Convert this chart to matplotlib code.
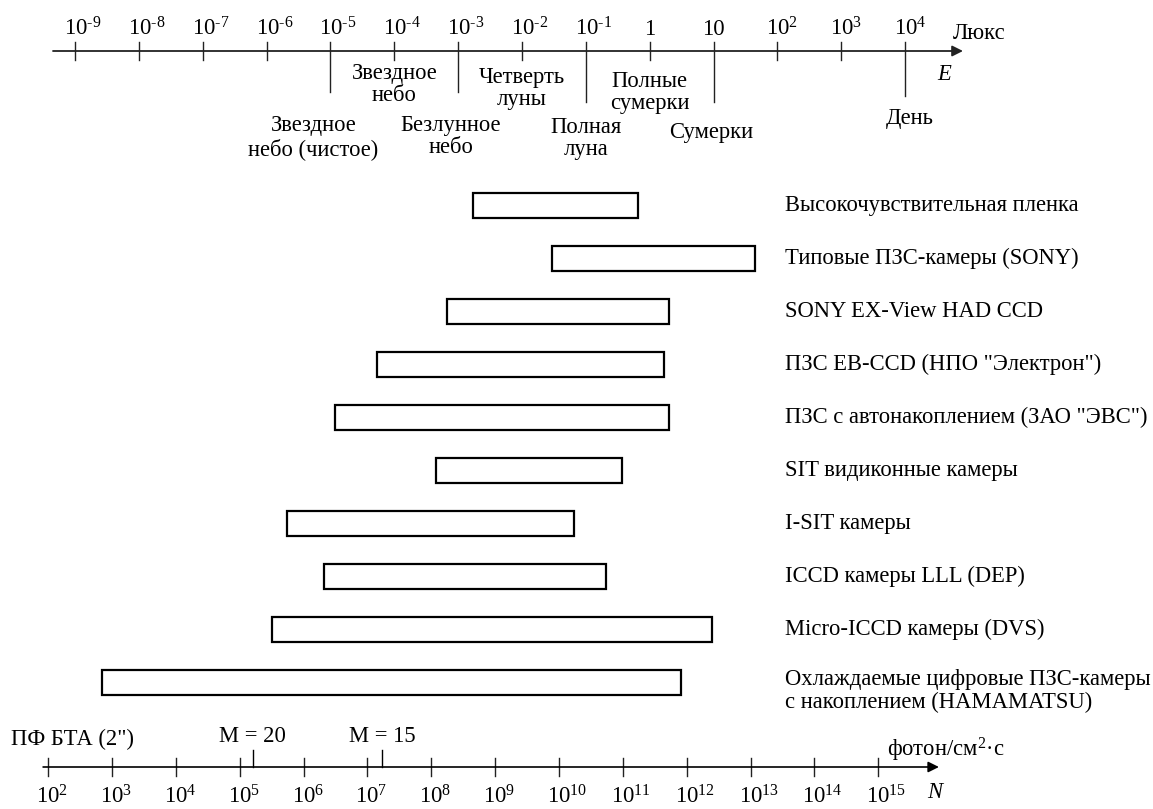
import matplotlib
matplotlib.use("Agg")
import matplotlib.pyplot as plt
import matplotlib.transforms as mtransforms

plt.rcParams['font.family'] = ['Liberation Serif', 'DejaVu Serif']
plt.rcParams['mathtext.fontset'] = 'custom'
plt.rcParams['mathtext.rm'] = 'Liberation Serif'
plt.rcParams['mathtext.it'] = 'Liberation Serif:italic'

# top scale, illuminance in lux
lux_exp = list(range(-9, 5))
illum_lux = [1e-5, 1e-4, 1e-3, 1e-2, 1e-1, 1, 10, 1e4]
illum_names = ["Звездное\nнебо (чистое)", "Звездное\nнебо", "Безлунное\nнебо",
               "Четверть\nлуны", "Полная\nлуна", "Полные\nсумерки", "Сумерки", "День"]

# working ranges of the detectors, lux
devices = ["Высокочувствительная пленка",
           "Типовые ПЗС-камеры (SONY)",
           "SONY EX-View HAD CCD",
           "ПЗС EB-CCD (НПО \"Электрон\")",
           "ПЗС с автонакоплением (ЗАО \"ЭВС\")",
           "SIT видиконные камеры",
           "I-SIT камеры",
           "ICCD камеры LLL (DEP)",
           "Micro-ICCD камеры (DVS)",
           "Охлаждаемые цифровые ПЗС-камеры\nс накоплением (HAMAMATSU)"]
lux_min = [1.7e-3, 3.0e-2, 6.6e-4, 5.4e-5, 1.2e-5, 4.5e-4, 2.1e-6, 7.9e-6, 1.2e-6, 2.6e-9]
lux_max = [0.66, 45, 2.0, 1.7, 2.0, 0.37, 6.6e-2, 0.21, 9.5, 3.1]

# bottom scale, photons/cm2*s
photon_exp = list(range(2, 16))
mag_labels = ["M = 20", "M = 15"]
mag_photon = [1.6e5, 1.7e7]
LUX_TO_PHOTON = 10 ** 11.42

fig = plt.figure(figsize=(11.53, 8.09), dpi=100)
ax = fig.add_axes([0, 0, 1, 1])
ax.set_xscale('log')
ax.set_xlim(10 ** -10.175, 10 ** 7.883)
ax.set_ylim(809, 0)
ax.axis('off')

FS = 16.3


def shifted(dx):
    return mtransforms.offset_copy(ax.transData, fig=fig, x=dx, y=0, units='dots')


# ---- top axis
ax.annotate('', xy=(10 ** 4.907, 51), xytext=(10 ** -9.345, 51),
            arrowprops=dict(arrowstyle='-|>', lw=1.3, color='#222222',
                            mutation_scale=16, shrinkA=0, shrinkB=0))
long_bottom = {1e-5: 92, 1e-3: 92, 1e-1: 102, 10: 102, 1e4: 96}
for e in lux_exp:
    v = 10.0 ** e
    bottom = long_bottom.get(v, 60)
    ax.plot([v, v], [42, bottom], color='#222222', lw=1.0)
    if e == 0:
        lab = '1'
    elif e == 1:
        lab = '10'
    elif e < 0:
        lab = r'$\mathregular{10^{\text{-}%d}}$' % (-e)
    else:
        lab = r'$\mathregular{10^{%d}}$' % e
    if e in (0, 1):
        ax.text(v, 29, lab, ha='center', va='center', fontsize=FS)
    else:
        ax.text(v, 29, lab, ha='left', va='center', fontsize=FS, transform=shifted(-11))

ax.text(10 ** 5.0, 33, 'Люкс', ha='left', va='center', fontsize=FS, transform=shifted(-16))
ax.text(10 ** 4.907, 74, 'E', ha='center', va='center', fontsize=FS,
        fontstyle='italic', transform=shifted(-19))

illum_dx = [-17, 0, -7, 0, 0, 0, -2, 5]
illum_y = [137.5, 84.5, 136.5, 88.5, 138.5, 92.5, 132, 118]
for v, name, dx, y in zip(illum_lux, illum_names, illum_dx, illum_y):
    ax.text(v, y, name, ha='center', va='center', fontsize=FS,
            linespacing=1.1, transform=shifted(dx))

# ---- bars
row_y = [205 + 53.1 * i for i in range(len(devices))]
widths = [hi - lo for lo, hi in zip(lux_min, lux_max)]
ax.barh(row_y, widths, left=lux_min, height=25, fill=False,
        edgecolor='black', linewidth=1.6)
for i, (y, name) in enumerate(zip(row_y, devices)):
    yy = y + 8 if '\n' in name else y
    ax.text(10 ** 2.5, yy, name, ha='left', va='center', fontsize=FS,
            linespacing=1.1, transform=shifted(-24))

# ---- bottom axis (photon flux)
ax.annotate('', xy=(10 ** 4.53, 767), xytext=(10 ** -9.5, 767),
            arrowprops=dict(arrowstyle='-|>', lw=1.2, color='black',
                            mutation_scale=16, shrinkA=0, shrinkB=0))
for e in photon_exp:
    v = 10.0 ** e / LUX_TO_PHOTON
    ax.plot([v, v], [758, 776], color='#222222', lw=1.0)
    ax.text(v, 797, r'$\mathregular{10^{%d}}$' % e, ha='left', va='center',
            fontsize=FS, transform=shifted(-12))

for lab, p in zip(mag_labels, mag_photon):
    v = p / LUX_TO_PHOTON
    ax.plot([v, v], [750, 767], color='black', lw=1.0)
    ax.text(v, 736, lab, ha='center', va='center', fontsize=FS)

ax.text(10 ** -10.0, 739, 'ПФ БТА (2")', ha='left', va='center', fontsize=FS)
ax.text(10 ** 4.1, 750, 'фотон/см$\\mathregular{^2}$·с', ha='left', va='center',
        fontsize=FS, transform=shifted(-24))
ax.text(10 ** 4.53, 792, 'N', ha='center', va='center', fontsize=FS,
        fontstyle='italic', transform=shifted(-4))

fig.savefig('out.png', dpi=100)
